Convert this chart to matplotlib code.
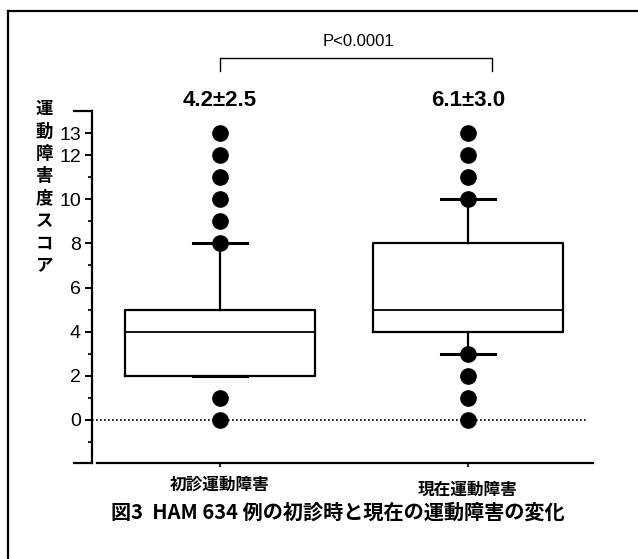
import numpy as np
import matplotlib
matplotlib.use("Agg")
import matplotlib.pyplot as plt
import matplotlib.transforms as mtransforms
from matplotlib.lines import Line2D

# box statistics of the two groups
groups = ['初診運動障害', '現在運動障害']
q1 = [2, 4]
med = [4, 5]
q3 = [5, 8]
whislo = [2, 3]
whishi = [8, 10]
points = [[13, 12, 11, 10, 9, 8, 1, 0],
          [13, 12, 11, 10, 3, 2, 1, 0]]
means = [4.2, 6.1]
sds = [2.5, 3.0]
p_text = 'P<0.0001'
ylabel = '運動障害度スコア'
caption = '図3  HAM 634 例の初診時と現在の運動障害の変化'
yticks = [0, 2, 4, 6, 8, 10, 12, 13]

narrow = ['Liberation Sans Narrow', 'Liberation Sans', 'DejaVu Sans']
jp = ['Noto Sans CJK JP', 'DejaVu Sans']

W, H = 638, 559
fig = plt.figure(figsize=(W / 100, H / 100), dpi=100)
fig.patch.set_facecolor('white')

def px(x0, y0, x1, y1):
    return [x0 / W, 1 - y1 / H, (x1 - x0) / W, (y1 - y0) / H]

ax = fig.add_axes(px(92, 111, 593, 463))
ymin, ymax = -1.95, 14.0
xmin, xmax = -0.516, 1.504
ax.set_xlim(xmin, xmax)
ax.set_ylim(ymin, ymax)

stats = []
for i in range(len(groups)):
    stats.append(dict(q1=q1[i], med=med[i], q3=q3[i], whislo=whislo[i],
                      whishi=whishi[i], fliers=points[i], label=groups[i]))

ax.bxp(stats, positions=[0, 1], widths=0.766, capwidths=0.216,
       boxprops=dict(color='black', linewidth=1.6),
       medianprops=dict(color='black', linewidth=1.3),
       whiskerprops=dict(color='black', linewidth=1.6),
       capprops=dict(color='black', linewidth=2.2),
       flierprops=dict(marker='o', markerfacecolor='black',
                       markeredgecolor='black', markersize=11),
       zorder=3)

# zero reference line
ax.plot([xmin, 1.484], [0, 0], color='black', linestyle=(0, (1, 1.4)),
        linewidth=1.2, zorder=1, clip_on=False)

# axes in the offset style
for s in ['top', 'right']:
    ax.spines[s].set_visible(False)
ax.spines['left'].set_linewidth(1.6)
ax.spines['bottom'].set_linewidth(1.6)
ax.spines['bottom'].set_bounds(-0.496, xmax)
ax.set_yticks(yticks)
ax.set_yticks([-1, 1, 3, 5, 7, 9, 11], minor=True)
ax.tick_params(axis='y', which='major', length=5, width=1.4, pad=3)
ax.tick_params(axis='y', which='minor', length=3, width=1.2)
for t in ax.get_yticklabels():
    t.set_fontfamily(narrow)
    t.set_fontsize(14)
# end marks of the y axis
for yv in (ymin, ymax):
    ax.plot([-0.035, 0], [yv, yv], color='black', linewidth=1.6,
            transform=ax.get_yaxis_transform(), clip_on=False)

ax.set_xticks([0, 1])
ax.set_xticklabels(groups, fontfamily=jp, fontsize=12, fontweight='bold')
ax.tick_params(axis='x', length=3, width=1.2, pad=6)
lab2 = ax.get_xticklabels()[1]
lab2.set_transform(lab2.get_transform() +
                   mtransforms.ScaledTranslation(0, -5 / 100, fig.dpi_scale_trans))

# mean ± SD above each box
trans = mtransforms.blended_transform_factory(ax.transData, fig.transFigure)
for i in range(len(groups)):
    ax.text(i, 1 - 100 / H, f'{means[i]:.1f}±{sds[i]:.1f}', transform=trans,
            ha='center', va='center', fontsize=16, fontfamily=narrow,
            fontweight='bold')

# significance bracket
bx = [0, 1.097]
yb_top, yb_low = 1 - 58 / H, 1 - 71 / H
ax.plot([bx[0], bx[0], bx[1], bx[1]], [yb_low, yb_top, yb_top, yb_low],
        color='black', linewidth=1.0, transform=trans, clip_on=False)
ax.text(0.56, 1 - 41 / H, p_text, transform=trans, ha='center', va='center',
        fontsize=12, fontfamily=['Liberation Sans', 'DejaVu Sans'])

# vertical y label, one character per line
for k, ch in enumerate(ylabel):
    fig.text(44 / W, 1 - (109 + 22.4 * k) / H, ch, ha='center', va='center',
             fontsize=12.5, fontfamily=jp, fontweight='bold')

fig.text(338 / W, 1 - 512 / H, caption, ha='center', va='center',
         fontsize=14.5, fontfamily=jp, fontweight='bold')

# figure frame (left and top edges)
fig.add_artist(Line2D([8 / W, 8 / W], [0, 1 - 11 / H], color='black',
                      linewidth=1.6, transform=fig.transFigure))
fig.add_artist(Line2D([8 / W, 1], [1 - 11 / H, 1 - 11 / H], color='black',
                      linewidth=1.6, transform=fig.transFigure))

fig.savefig('out.png', dpi=100)
